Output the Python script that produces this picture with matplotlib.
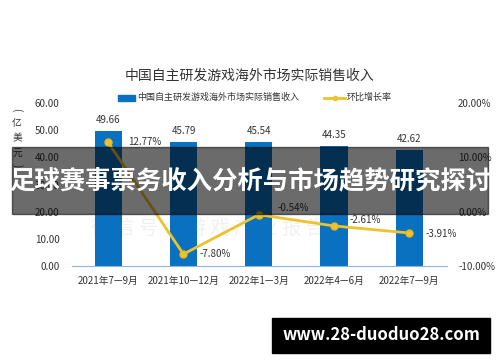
import numpy as np
import matplotlib.pyplot as plt
from matplotlib.patches import Rectangle

plt.rcParams['font.family'] = ['Noto Sans CJK SC', 'DejaVu Sans']

periods = ['2021年7—9月', '2021年10—12月', '2022年1—3月', '2022年4—6月', '2022年7—9月']
revenue = [49.66, 45.79, 45.54, 44.35, 42.62]
growth = [12.77, -7.80, -0.54, -2.61, -3.91]
left_ticks = [0, 10, 20, 30, 40, 50, 60]
right_ticks = [-10, 0, 10, 20]

fig = plt.figure(figsize=(5, 3.62), dpi=100)
ax = fig.add_axes([0.144, 0.265, 0.75, 0.450])
x = np.arange(len(periods))

ax.bar(x, revenue, width=0.36, color='#0A70C0', zorder=2)
ax.set_xlim(-0.48, 4.5)
ax.set_ylim(0, 60)
ax.set_yticks(left_ticks)
ax.set_yticklabels(['%.2f' % v for v in left_ticks])
ax.set_xticks(x)
ax.set_xticklabels(periods)
ax.tick_params(axis='both', length=0, labelsize=7, colors='#333333')
ax.tick_params(axis='x', pad=7)
ax.tick_params(axis='y', pad=9)
for s in ['top', 'right', 'left']:
    ax.spines[s].set_visible(False)
ax.spines['bottom'].set_color('#8FB4D9')
for xi, v in zip(x, revenue):
    ax.text(xi, v + 2.2, '%.2f' % v, ha='center', va='bottom', fontsize=7, color='#333333')

# faint watermark behind the bars
ax.text(0.05, 0.2, '微 信 号 ： 游 戏 产 业 报 告', transform=ax.transAxes,
        fontsize=14, color='#F0F0F0', zorder=1)

ax2 = ax.twinx()
ax2.set_ylim(-10, 20)
ax2.set_yticks(right_ticks)
ax2.set_yticklabels(['%.2f%%' % v for v in right_ticks])
ax2.tick_params(axis='y', length=0, labelsize=7, colors='#333333', pad=8)
for s in ax2.spines.values():
    s.set_visible(False)
ax2.plot(x, growth, color='#EEC22E', lw=2, marker='o', ms=5,
         mec='#E6B820', mfc='#F2C12E', zorder=3)
offsets = [(0.27, 0), (0.22, 0), (0.25, 1.3), (0.2, 1.1), (0.22, -0.2)]
for xi, v, (dx, dy) in zip(x, growth, offsets):
    ax2.text(xi + dx, v + dy, '%.2f%%' % v, ha='left', va='center', fontsize=7, color='#333333')

# title and legend
fig.text(0.5, 0.79, '中国自主研发游戏海外市场实际销售收入', ha='center', va='center',
         fontsize=10, color='#333333')
fig.patches.append(Rectangle((0.236, 0.722), 0.034, 0.016, transform=fig.transFigure,
                             color='#0A70C0'))
fig.text(0.274, 0.730, '中国自主研发游戏海外市场实际销售收入', ha='left', va='center',
         fontsize=6.5, color='#333333')
fig.lines.append(plt.Line2D([0.648, 0.69], [0.730, 0.730], transform=fig.transFigure,
                            color='#EEC22E', lw=2))
fig.lines.append(plt.Line2D([0.669], [0.730], transform=fig.transFigure,
                            color='#EEC22E', marker='o', ms=3))
fig.text(0.694, 0.730, '环比增长率', ha='left', va='center', fontsize=6.5, color='#333333')

# unit label, stacked vertically
unit_chars = ['(', '亿', '美', '元', ')']
unit_rot = [-90, 0, 0, 0, -90]
unit_y = [110, 123, 138, 153, 166]
for ch, rot, yy in zip(unit_chars, unit_rot, unit_y):
    fig.text(17 / 500, (362 - yy) / 362, ch, rotation=rot, ha='center', va='center',
             fontsize=7, color='#333333')

# banner overlay
fig.patches.append(Rectangle((0.024, (362 - 214) / 362), 0.952, 67 / 362,
                             transform=fig.transFigure, color='black', alpha=0.58, zorder=10))
fig.text(0.5, (362 - 182) / 362, '足球赛事票务收入分析与市场趋势研究探讨', ha='center', va='center',
         fontsize=18.3, fontweight='bold', color='white', zorder=11)

# site box
fig.patches.append(Rectangle((272 / 500, (362 - 353) / 362), 218 / 500, 35 / 362,
                             transform=fig.transFigure, color='black', zorder=10))
fig.text(381 / 500, (362 - 335) / 362, 'www.28-duoduo28.com', ha='center', va='center',
         fontsize=12, fontweight='bold', color='white', zorder=11)

fig.savefig('out.png', dpi=100)
